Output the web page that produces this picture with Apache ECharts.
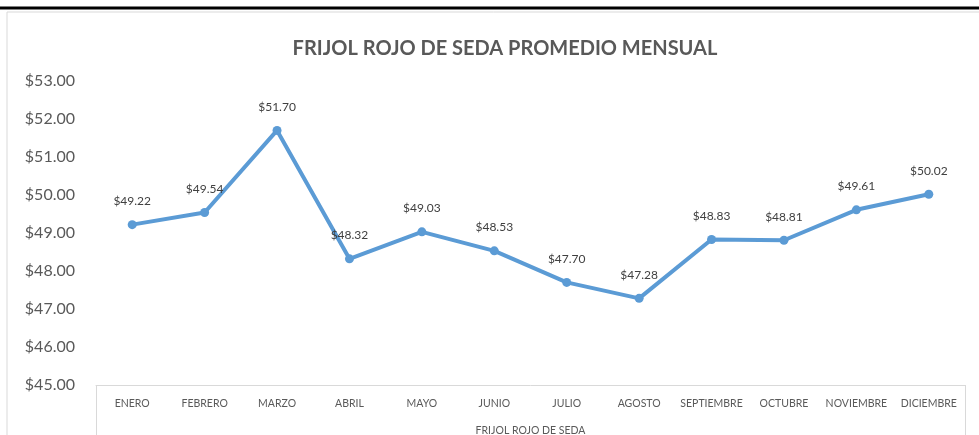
<!DOCTYPE html>
<html>
<head>
<meta charset="utf-8">
<script src="https://cdn.jsdelivr.net/npm/echarts@6/dist/echarts.min.js"></script>
<style>
  html, body { margin: 0; padding: 0; background: #fff; }
  #chart { width: 979px; height: 435px; }
</style>
</head>
<body>
<div id="chart"></div>
<script>
// Meses y precio promedio
const meses = ['ENERO', 'FEBRERO', 'MARZO', 'ABRIL', 'MAYO', 'JUNIO', 'JULIO',
  'AGOSTO', 'SEPTIEMBRE', 'OCTUBRE', 'NOVIEMBRE', 'DICIEMBRE'];
const precios = [49.22, 49.54, 51.70, 48.32, 49.03, 48.53, 47.70, 47.28, 48.83, 48.81, 49.61, 50.02];

const FONT = 'Lato, "Liberation Sans", sans-serif';

const chart = echarts.init(document.getElementById('chart'), null, { renderer: 'canvas' });

chart.setOption({
  animation: false,
  textStyle: { fontFamily: FONT },
  title: {
    text: 'FRIJOL ROJO DE SEDA PROMEDIO MENSUAL',
    left: 500,
    textAlign: 'center',
    top: 34,
    textStyle: { fontSize: 20, fontWeight: 'bold', color: '#595959', fontFamily: FONT }
  },
  grid: { left: 96, right: 14, top: 81, bottom: 50, outerBoundsMode: 'none', containLabel: false },
  xAxis: {
    type: 'category',
    data: meses,
    boundaryGap: true,
    name: 'FRIJOL ROJO DE SEDA',
    nameLocation: 'middle',
    nameGap: 40,
    nameTextStyle: { fontSize: 10.5, color: '#595959' },
    axisLine: { show: true, lineStyle: { color: '#d9d9d9', width: 1 } },
    axisTick: { show: false },
    axisLabel: { fontSize: 10.5, color: '#595959', margin: 13, interval: 0 }
  },
  yAxis: {
    type: 'value',
    min: 45,
    max: 53,
    interval: 1,
    axisLine: { show: false },
    axisTick: { show: false },
    splitLine: { show: false },
    axisLabel: {
      fontSize: 16,
      color: '#595959',
      margin: 21,
      formatter: v => '$' + v.toFixed(2)
    }
  },
  series: [{
    type: 'line',
    data: precios,
    symbol: 'circle',
    symbolSize: 9,
    lineStyle: { color: '#5b9bd5', width: 4 },
    itemStyle: { color: '#5b9bd5' },
    label: {
      show: true,
      position: 'top',
      distance: 13,
      fontSize: 12,
      color: '#404040',
      formatter: p => '$' + p.value.toFixed(2)
    }
  }],
  graphic: [
    // marco exterior
    { type: 'rect', shape: { x: 7, y: 12, width: 990, height: 440 },
      style: { fill: 'none', stroke: '#d9d9d9', lineWidth: 1 }, silent: true },
    { type: 'line', shape: { x1: 0, y1: 8, x2: 979, y2: 8 },
      style: { stroke: '#000', lineWidth: 3 }, silent: true },
    // caja del eje de categorías
    { type: 'line', shape: { x1: 96.5, y1: 385, x2: 96.5, y2: 440 },
      style: { stroke: '#d9d9d9', lineWidth: 1 }, silent: true },
    { type: 'line', shape: { x1: 965.5, y1: 385, x2: 965.5, y2: 440 },
      style: { stroke: '#d9d9d9', lineWidth: 1 }, silent: true }
  ]
});
</script>
</body>
</html>
